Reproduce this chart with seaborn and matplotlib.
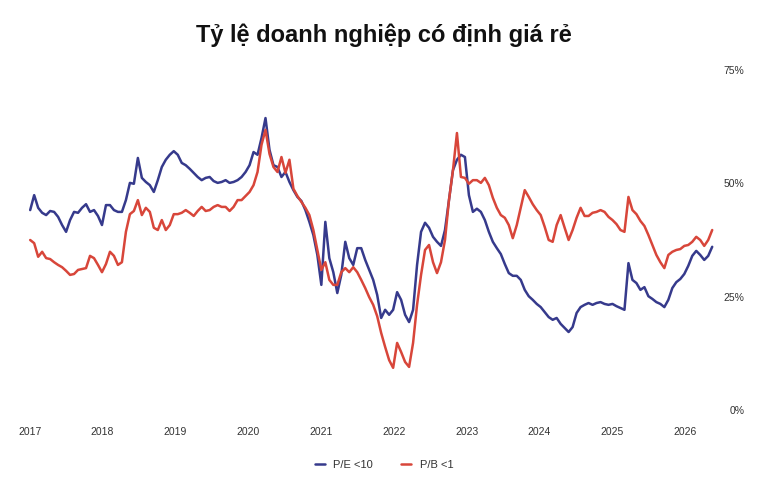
import matplotlib
matplotlib.use("Agg")
import matplotlib.pyplot as plt
import matplotlib.dates as mdates
from matplotlib.ticker import FuncFormatter
import pandas as pd
import seaborn as sns

# one reading every 20 days
dates = pd.date_range("2017-01-03", periods=172, freq="20D")

pe_under_10 = [
    44.1, 47.4, 44.6, 43.5, 43.0, 43.9, 43.7, 42.6, 40.8, 39.3,
    41.9, 43.7, 43.5, 44.6, 45.4, 43.7, 44.1, 42.8, 40.8, 45.2,
    45.2, 44.1, 43.7, 43.7, 46.3, 50.1, 49.9, 55.6, 51.2, 50.3,
    49.6, 48.1, 50.7, 53.6, 55.2, 56.3, 57.1, 56.3, 54.5, 54.0,
    53.2, 52.3, 51.4, 50.7, 51.2, 51.4, 50.5, 50.1, 50.3, 50.7,
    50.1, 50.3, 50.7, 51.4, 52.5, 54.0, 56.9, 56.3, 60.0, 64.4,
    57.4, 54.0, 53.6, 51.4, 52.5, 50.3, 48.5, 47.0, 46.1, 44.1,
    41.5, 38.6, 34.2, 27.6, 41.5, 33.5, 30.4, 25.8, 29.8, 37.1,
    33.5, 32.0, 35.7, 35.7, 33.1, 30.9, 28.7, 25.4, 20.3, 22.1,
    21.0, 22.1, 26.0, 24.3, 21.0, 19.4, 22.1, 32.0, 39.3, 41.3,
    40.2, 38.2, 37.1, 36.2, 39.7, 46.3, 52.9, 55.2, 56.3, 55.8,
    47.4, 43.7, 44.4, 43.7, 41.9, 39.3, 37.1, 35.7, 34.4, 32.2,
    30.2, 29.6, 29.6, 28.7, 26.5, 25.1, 24.3, 23.4, 22.7, 21.6,
    20.5, 19.9, 20.3, 19.0, 18.1, 17.2, 18.3, 21.4, 22.7, 23.2,
    23.6, 23.2, 23.6, 23.8, 23.4, 23.2, 23.4, 22.9, 22.5, 22.1,
    32.4, 28.7, 28.0, 26.5, 27.1, 25.1, 24.5, 23.8, 23.4, 22.7,
    24.3, 26.9, 28.2, 28.9, 30.0, 31.8, 34.0, 35.1, 34.2, 33.1,
    34.0, 36.0,
]

pb_under_1 = [
    37.5, 36.8, 33.8, 34.9, 33.5, 33.3, 32.6, 32.0, 31.5, 30.7,
    29.8, 30.0, 30.9, 31.1, 31.3, 34.0, 33.5, 32.0, 30.4, 32.2,
    34.9, 34.0, 32.0, 32.6, 39.3, 43.2, 43.9, 46.3, 43.0, 44.6,
    43.7, 40.2, 39.7, 41.9, 39.7, 40.8, 43.2, 43.2, 43.5, 44.1,
    43.5, 42.8, 43.9, 44.8, 43.9, 44.1, 44.8, 45.2, 44.8, 44.8,
    43.9, 44.8, 46.3, 46.3, 47.2, 48.1, 49.6, 52.5, 58.5, 61.8,
    56.5, 53.6, 52.5, 55.8, 52.3, 55.2, 48.8, 47.2, 45.9, 44.6,
    43.0, 39.7, 35.3, 30.9, 32.6, 28.7, 27.6, 27.6, 30.4, 31.3,
    30.4, 31.5, 30.4, 28.7, 26.9, 24.9, 23.2, 20.7, 17.0, 13.9,
    11.0, 9.3, 14.8, 12.8, 10.6, 9.5, 14.8, 23.2, 29.8, 35.3,
    36.4, 32.6, 30.2, 32.6, 37.5, 46.3, 52.9, 61.1, 51.4, 51.2,
    49.9, 50.7, 50.7, 50.1, 51.2, 49.6, 46.8, 44.6, 43.0, 42.4,
    40.8, 37.9, 40.8, 44.6, 48.5, 47.0, 45.4, 44.1, 43.0, 40.4,
    37.5, 37.1, 40.8, 43.0, 40.2, 37.5, 39.7, 42.4, 44.6, 42.8,
    42.8, 43.5, 43.7, 44.1, 43.7, 42.6, 41.9, 41.0, 39.7, 39.3,
    47.0, 44.1, 43.2, 41.7, 40.6, 38.6, 36.4, 34.2, 32.6, 31.3,
    34.2, 34.9, 35.3, 35.5, 36.2, 36.4, 37.1, 38.2, 37.5, 36.2,
    37.5, 39.7,
]

series_names = ["P/E <10", "P/B <1"]
colors = ["#363a8c", "#d8463a"]
year_ticks = list(range(2017, 2027))

df = pd.DataFrame({"date": dates, series_names[0]: pe_under_10, series_names[1]: pb_under_1})
df = df.melt(id_vars="date", var_name="series", value_name="pct")

sns.set_theme(style="white")
plt.rcParams["font.family"] = ["Liberation Sans", "DejaVu Sans"]

fig = plt.figure(figsize=(7.68, 4.95), dpi=100)
ax = fig.add_axes([25 / 768, 85 / 495, 690 / 768, 340 / 495])

sns.lineplot(data=df, x="date", y="pct", hue="series", palette=colors,
             linewidth=1.8, ax=ax, legend=True)

ax.set_ylim(0, 75)
ax.set_xlim(pd.Timestamp("2016-12-08"), pd.Timestamp("2026-05-30"))
ax.set_yticks([0, 25, 50, 75])
ax.yaxis.set_major_formatter(FuncFormatter(lambda v, _: f"{v:.0f}%"))
ax.yaxis.tick_right()
ax.set_xticks([pd.Timestamp(f"{y}-01-01") for y in year_ticks])
ax.xaxis.set_major_formatter(mdates.DateFormatter("%Y"))
ax.tick_params(axis="y", length=0, pad=21, labelsize=7.5, labelcolor="#333333")
ax.tick_params(axis="x", length=0, pad=12, labelsize=7.5, labelcolor="#333333")
for lbl in ax.get_yticklabels():
    lbl.set_horizontalalignment("right")
ax.set_xlabel("")
ax.set_ylabel("")
for s in ax.spines.values():
    s.set_visible(False)

handles, labels = ax.get_legend_handles_labels()
ax.get_legend().remove()
fig.legend(handles, labels, loc="center", bbox_to_anchor=(0.5, 30 / 495), ncol=2,
           frameon=False, fontsize=8, handlelength=0.9, columnspacing=2.5,
           labelcolor="#333333")

fig.suptitle("Tỷ lệ doanh nghiệp có định giá rẻ", y=1 - 35 / 495, va="center",
             fontsize=17, fontweight="bold", color="#111111")

fig.savefig("out.png", dpi=100, facecolor="white")
